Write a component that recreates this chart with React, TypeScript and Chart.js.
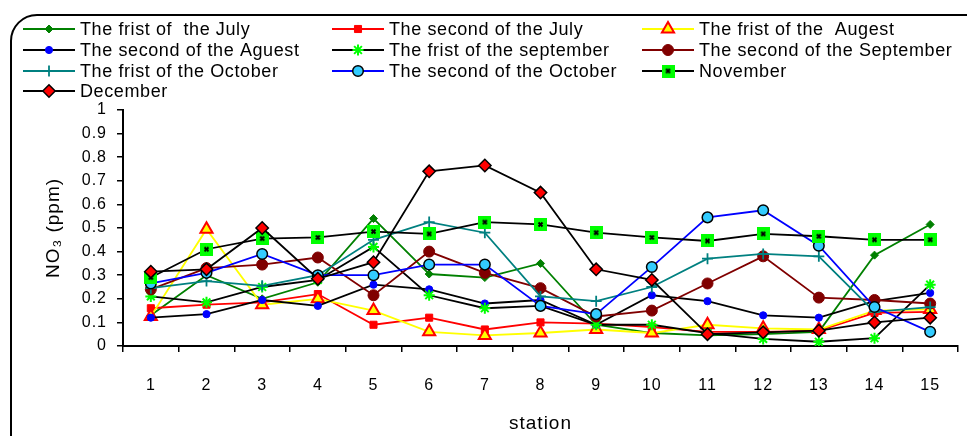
import React, { useEffect, useRef } from 'react';
import { Chart, registerables } from 'chart.js';

Chart.register(...registerables);

const stations = ['1', '2', '3', '4', '5', '6', '7', '8', '9', '10', '11', '12', '13', '14', '15'];
const julyFirst = [0.13, 0.30, 0.20, 0.27, 0.54, 0.305, 0.29, 0.35, 0.09, 0.055, 0.045, 0.05, 0.06, 0.385, 0.515];
const julySecond = [0.16, 0.175, 0.185, 0.22, 0.09, 0.12, 0.07, 0.10, 0.095, 0.08, 0.06, 0.06, 0.065, 0.14, 0.145];
const augustFirst = [0.125, 0.495, 0.175, 0.20, 0.15, 0.06, 0.045, 0.055, 0.07, 0.055, 0.09, 0.075, 0.07, 0.15, 0.155];
const augustSecond = [0.12, 0.135, 0.195, 0.17, 0.26, 0.24, 0.18, 0.195, 0.09, 0.215, 0.19, 0.13, 0.12, 0.19, 0.225];
const septemberFirst = [0.21, 0.185, 0.25, 0.28, 0.42, 0.215, 0.16, 0.17, 0.09, 0.09, 0.055, 0.03, 0.018, 0.033, 0.26];
const septemberSecond = [0.24, 0.33, 0.345, 0.375, 0.215, 0.40, 0.31, 0.245, 0.125, 0.15, 0.265, 0.38, 0.205, 0.195, 0.18];
const octoberFirst = [0.245, 0.275, 0.255, 0.30, 0.45, 0.525, 0.48, 0.21, 0.19, 0.25, 0.37, 0.39, 0.38, 0.145, 0.165];
const octoberSecond = [0.265, 0.31, 0.39, 0.30, 0.30, 0.345, 0.345, 0.17, 0.135, 0.335, 0.545, 0.575, 0.425, 0.165, 0.06];
const november = [0.29, 0.41, 0.455, 0.46, 0.485, 0.475, 0.525, 0.515, 0.48, 0.46, 0.445, 0.475, 0.465, 0.45, 0.45];
const december = [0.315, 0.325, 0.50, 0.285, 0.355, 0.74, 0.765, 0.65, 0.325, 0.28, 0.05, 0.058, 0.065, 0.10, 0.12];
const yTicks = [0, 0.1, 0.2, 0.3, 0.4, 0.5, 0.6, 0.7, 0.8, 0.9, 1];

const seriesNames = [
  'The frist of  the July',
  'The second of the July',
  'The frist of the  Augest',
  'The second of the Aguest',
  'The frist of the september',
  'The second of the September',
  'The frist of the October',
  'The second of the October',
  'November',
  'December',
];

const FONT = "'Liberation Sans', Arial, sans-serif";

function makeNovMarker(): HTMLCanvasElement {
  const c = document.createElement('canvas');
  c.width = 13;
  c.height = 13;
  const g = c.getContext('2d')!;
  g.fillStyle = '#00FF00';
  g.fillRect(0, 0, 13, 13);
  g.strokeStyle = '#000';
  g.lineWidth = 2;
  g.beginPath();
  g.moveTo(4.5, 4.5);
  g.lineTo(8.5, 8.5);
  g.moveTo(8.5, 4.5);
  g.lineTo(4.5, 8.5);
  g.stroke();
  return c;
}

function drawMarker(ctx: CanvasRenderingContext2D, ds: any, x: number, y: number) {
  const style = ds.pointStyle;
  const r = ds.pointRadius;
  ctx.save();
  if (typeof style !== 'string') {
    ctx.drawImage(style, x - style.width / 2, y - style.height / 2);
    ctx.restore();
    return;
  }
  ctx.fillStyle = ds.pointBackgroundColor;
  ctx.strokeStyle = ds.pointBorderColor;
  ctx.lineWidth = ds.pointBorderWidth;
  ctx.beginPath();
  if (style === 'circle') {
    ctx.arc(x, y, r, 0, Math.PI * 2);
    ctx.fill();
    ctx.stroke();
  } else if (style === 'rect') {
    const s = r * Math.SQRT1_2;
    ctx.rect(x - s, y - s, 2 * s, 2 * s);
    ctx.fill();
    ctx.stroke();
  } else if (style === 'rectRot') {
    ctx.moveTo(x - r, y);
    ctx.lineTo(x, y + r);
    ctx.lineTo(x + r, y);
    ctx.lineTo(x, y - r);
    ctx.closePath();
    ctx.fill();
    ctx.stroke();
  } else if (style === 'triangle') {
    const a = -Math.PI / 2;
    for (let k = 0; k < 3; k++) {
      const ang = a + (k * 2 * Math.PI) / 3;
      const px = x + Math.cos(ang) * r;
      const py = y + Math.sin(ang) * r;
      if (k === 0) ctx.moveTo(px, py);
      else ctx.lineTo(px, py);
    }
    ctx.closePath();
    ctx.fill();
    ctx.stroke();
  } else if (style === 'cross') {
    ctx.moveTo(x, y - r);
    ctx.lineTo(x, y + r);
    ctx.moveTo(x - r, y);
    ctx.lineTo(x + r, y);
    ctx.stroke();
  } else if (style === 'star') {
    ctx.moveTo(x, y - r);
    ctx.lineTo(x, y + r);
    ctx.moveTo(x - r, y);
    ctx.lineTo(x + r, y);
    const d = r * Math.SQRT1_2;
    ctx.moveTo(x - d, y - d);
    ctx.lineTo(x + d, y + d);
    ctx.moveTo(x + d, y - d);
    ctx.lineTo(x - d, y + d);
    ctx.stroke();
  }
  ctx.restore();
}

const framePlugin = {
  id: 'frame',
  beforeDraw(chart: any) {
    const ctx = chart.ctx as CanvasRenderingContext2D;
    ctx.save();
    ctx.strokeStyle = '#000';
    ctx.lineWidth = 2;
    ctx.beginPath();
    (ctx as any).roundRect(11, 15, 995, 460, 26);
    ctx.stroke();
    ctx.restore();
    (ctx as any).letterSpacing = '1px';
  },
};

const legendPlugin = {
  id: 'gridLegend',
  afterDraw(chart: any) {
    const ctx = chart.ctx as CanvasRenderingContext2D;
    const colX = [23, 332, 642];
    const rowY = [29, 50, 71, 91];
    ctx.save();
    (ctx as any).letterSpacing = '0.6px';
    chart.data.datasets.forEach((ds: any, i: number) => {
      const col = i % 3;
      const row = Math.floor(i / 3);
      const x0 = colX[col];
      const y = rowY[row];
      ctx.strokeStyle = ds.borderColor;
      ctx.lineWidth = 2;
      ctx.beginPath();
      ctx.moveTo(x0, y);
      ctx.lineTo(x0 + 52, y);
      ctx.stroke();
      drawMarker(ctx, ds, x0 + 26, y);
      ctx.fillStyle = '#000';
      ctx.font = `18px ${FONT}`;
      ctx.textBaseline = 'middle';
      ctx.textAlign = 'left';
      ctx.fillText(ds.label, x0 + 57, y + 1);
    });
    ctx.restore();
  },
};

export default function App() {
  const ref = useRef<HTMLCanvasElement>(null);

  useEffect(() => {
    document.body.style.margin = '0';
    const nov = makeNovMarker();
    const values = [julyFirst, julySecond, augustFirst, augustSecond, septemberFirst, septemberSecond, octoberFirst, octoberSecond, november, december];
    const styles = [
      { line: '#008000', ps: 'rectRot', r: 4, bg: '#008000', bc: '#008000', bw: 1 },
      { line: '#FF0000', ps: 'rect', r: 5, bg: '#FF0000', bc: '#FF0000', bw: 1 },
      { line: '#FFFF00', ps: 'triangle', r: 7, bg: '#FFFF00', bc: '#FF0000', bw: 2 },
      { line: '#000000', ps: 'circle', r: 3.6, bg: '#0000FF', bc: '#0000FF', bw: 1 },
      { line: '#000000', ps: 'star', r: 5.5, bg: '#00FF00', bc: '#00FF00', bw: 2 },
      { line: '#800000', ps: 'circle', r: 5.5, bg: '#800000', bc: '#800000', bw: 1 },
      { line: '#008080', ps: 'cross', r: 5.5, bg: '#008080', bc: '#008080', bw: 1.8 },
      { line: '#0000FF', ps: 'circle', r: 5.3, bg: '#33CCFF', bc: '#000000', bw: 1.5 },
      { line: '#000000', ps: nov, r: 6.5, bg: '#00FF00', bc: '#000000', bw: 1 },
      { line: '#000000', ps: 'rectRot', r: 6.2, bg: '#FF0000', bc: '#000000', bw: 1.5 },
    ];

    const datasets = values.map((data, i) => ({
      label: seriesNames[i],
      data,
      borderColor: styles[i].line,
      backgroundColor: styles[i].bg,
      borderWidth: 1.8,
      pointStyle: styles[i].ps as any,
      pointRadius: styles[i].r,
      pointBackgroundColor: styles[i].bg,
      pointBorderColor: styles[i].bc,
      pointBorderWidth: styles[i].bw,
      tension: 0,
      fill: false,
      order: 20 - i,
    }));

    const chart = new Chart(ref.current!, {
      type: 'line',
      data: { labels: stations, datasets },
      plugins: [framePlugin, legendPlugin],
      options: {
        animation: false,
        responsive: true,
        maintainAspectRatio: false,
        layout: { padding: { top: 110, left: 39, right: -3, bottom: 0 } },
        plugins: {
          legend: { display: false },
          tooltip: { enabled: false },
        },
        scales: {
          x: {
            type: 'category',
            offset: true,
            grid: {
              display: true,
              drawOnChartArea: false,
              drawTicks: true,
              tickLength: 6,
              offset: true,
              color: '#000',
              lineWidth: 1.5,
            },
            border: { display: true, color: '#000', width: 2 },
            ticks: {
              color: '#000',
              padding: 24,
              maxRotation: 0,
              autoSkip: false,
              font: { family: FONT, size: 16 },
            },
            title: {
              display: true,
              text: 'station',
              color: '#000',
              font: { family: FONT, size: 19 },
              padding: { top: 0, bottom: 1 },
            },
            afterFit: (scale: any) => {
              scale.height = 90;
            },
          },
          y: {
            type: 'linear',
            min: 0,
            max: 1,
            grid: {
              display: true,
              drawOnChartArea: false,
              drawTicks: true,
              tickLength: 6,
              color: '#000',
              lineWidth: 1.5,
            },
            border: { display: true, color: '#000', width: 2 },
            afterBuildTicks: (scale: any) => {
              scale.ticks = yTicks.map((v) => ({ value: v }));
            },
            ticks: {
              color: '#000',
              padding: 10,
              font: { family: FONT, size: 16 },
              callback: (v: any) => String(Number(Number(v).toFixed(1))),
            },
            title: {
              display: true,
              text: 'NO₃ (ppm)',
              color: '#000',
              font: { family: FONT, size: 19 },
              padding: { top: 3, bottom: 0 },
            },
            afterFit: (scale: any) => {
              scale.width = 84;
            },
          },
        },
      },
    });
    return () => chart.destroy();
  }, []);

  return (
    <div style={{ position: 'absolute', left: 0, top: 0, width: 967, height: 436 }}>
      <canvas ref={ref} />
    </div>
  );
}
